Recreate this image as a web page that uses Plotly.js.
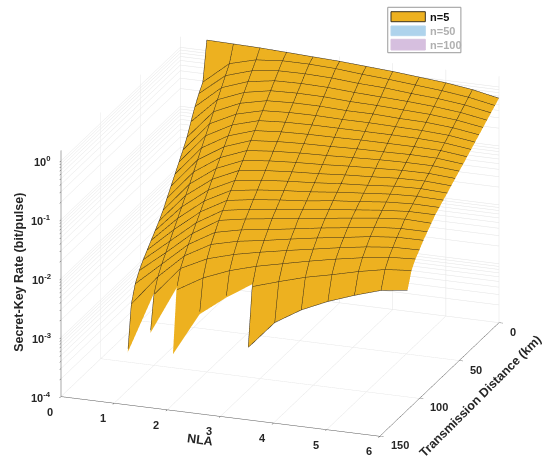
<!DOCTYPE html>
<html>
<head>
<meta charset="utf-8">
<script src="https://cdn.plot.ly/plotly-3.0.1.min.js"></script>
<style>html,body{margin:0;padding:0;background:#fff;}#plot{width:550px;height:464px;}</style>
</head>
<body>
<div id="plot"></div>
<script>
// NLA gain values (x) and transmission distances in km (y)
const nla = [0.5, 1, 1.5, 2, 2.5, 3, 3.5, 4, 4.5, 5, 5.5, 6];
const distanceKm = [0,5,10,15,20,25,30,35,40,45,50,55,60,65,70,75,80,85,90,95,100,105,110,115];

// log10 of secret-key rate (bit/pulse) along distance, one array per NLA value (n=5)
const logSKR_g0_5 = [0.18,-0.47,-0.60,-0.76,-0.95,-1.15,-1.30,-1.44,-1.58,-1.72,-1.86,-2.00,-2.12,-2.22,-2.32,-2.42,-2.52,-2.64,-2.80,-3.08,-3.95,null,null,null];
const logSKR_g1_0 = [0.17,-0.10,-0.24,-0.38,-0.52,-0.66,-0.80,-0.94,-1.08,-1.22,-1.36,-1.50,-1.63,-1.76,-1.89,-2.02,-2.15,-2.28,-2.41,-2.56,-2.80,-3.48,null,null];
const logSKR_g1_5 = [0.16,0.02,-0.10,-0.22,-0.34,-0.46,-0.58,-0.70,-0.82,-0.94,-1.06,-1.18,-1.30,-1.42,-1.54,-1.66,-1.78,-1.90,-2.02,-2.15,-2.30,-2.60,-3.78,null];
const logSKR_g2_0 = [0.14,0.06,-0.045,-0.15,-0.255,-0.36,-0.465,-0.57,-0.675,-0.78,-0.885,-0.99,-1.095,-1.20,-1.305,-1.41,-1.515,-1.62,-1.76,-1.90,-2.08,-2.34,-2.98,null];
const logSKR_g2_5 = [0.12,0.06,-0.04,-0.14,-0.24,-0.34,-0.44,-0.54,-0.64,-0.74,-0.84,-0.94,-1.04,-1.14,-1.24,-1.34,-1.44,-1.54,-1.66,-1.79,-1.95,-2.16,-2.62,null];
const logSKR_g3_0 = [0.10,0.04,-0.055,-0.15,-0.245,-0.34,-0.435,-0.53,-0.625,-0.72,-0.815,-0.91,-1.005,-1.10,-1.195,-1.29,-1.385,-1.48,-1.60,-1.72,-1.855,-2.03,-2.31,-3.28];
const logSKR_g3_5 = [0.07,0.0,-0.09,-0.18,-0.27,-0.36,-0.445,-0.53,-0.62,-0.71,-0.80,-0.89,-0.98,-1.07,-1.16,-1.25,-1.335,-1.42,-1.53,-1.64,-1.77,-1.93,-2.17,-2.80];
const logSKR_g4_0 = [0.04,-0.03,-0.11,-0.20,-0.28,-0.36,-0.445,-0.53,-0.61,-0.695,-0.78,-0.86,-0.945,-1.03,-1.11,-1.19,-1.275,-1.36,-1.46,-1.565,-1.69,-1.83,-2.04,-2.53];
const logSKR_g4_5 = [0.0,-0.07,-0.15,-0.22,-0.30,-0.38,-0.455,-0.53,-0.61,-0.69,-0.76,-0.84,-0.92,-1.00,-1.07,-1.15,-1.225,-1.30,-1.40,-1.50,-1.61,-1.74,-1.94,-2.33];
const logSKR_g5_0 = [-0.04,-0.11,-0.18,-0.25,-0.32,-0.39,-0.465,-0.535,-0.61,-0.68,-0.75,-0.82,-0.89,-0.96,-1.03,-1.10,-1.175,-1.245,-1.335,-1.43,-1.54,-1.66,-1.83,-2.17];
const logSKR_g5_5 = [-0.10,-0.165,-0.23,-0.295,-0.36,-0.425,-0.49,-0.555,-0.62,-0.685,-0.75,-0.815,-0.88,-0.945,-1.01,-1.075,-1.14,-1.205,-1.30,-1.385,-1.49,-1.595,-1.74,-2.03];
const logSKR_g6_0 = [-0.19,-0.25,-0.31,-0.37,-0.43,-0.49,-0.55,-0.61,-0.67,-0.73,-0.785,-0.845,-0.905,-0.965,-1.02,-1.08,-1.14,-1.22,-1.30,-1.38,-1.48,-1.57,-1.70,-1.97];

// axis ticks and labels
const xTicks = [0,1,2,3,4,5,6];
const yTicks = [0,50,100,150];
const zDecadeExp = [-4,-3,-2,-1,0];
const zDecadeLabels = ['10<sup>-4</sup>','10<sup>-3</sup>','10<sup>-2</sup>','10<sup>-1</sup>','10<sup>0</sup>'];
const zTickVals = [1e-4,2e-4,3e-4,4e-4,5e-4,6e-4,7e-4,8e-4,9e-4,
                   1e-3,2e-3,3e-3,4e-3,5e-3,6e-3,7e-3,8e-3,9e-3,
                   1e-2,2e-2,3e-2,4e-2,5e-2,6e-2,7e-2,8e-2,9e-2,
                   1e-1,2e-1,3e-1,4e-1,5e-1,6e-1,7e-1,8e-1,9e-1,1];
const xTitle = 'NLA', yTitle = 'Transmission Distance (km)', zTitle = 'Secret-Key Rate (bit/pulse)';
const legendNames = ['n=5','n=50','n=100'];

const columns = [logSKR_g0_5,logSKR_g1_0,logSKR_g1_5,logSKR_g2_0,logSKR_g2_5,logSKR_g3_0,
                 logSKR_g3_5,logSKR_g4_0,logSKR_g4_5,logSKR_g5_0,logSKR_g5_5,logSKR_g6_0];
const zRate = distanceKm.map((d, i) => columns.map(col => col[i] === null ? null : Math.pow(10, col[i])));

const faceColor = '#EDB120';
const edgeColor = '#33291a';
const fontFam = 'Liberation Sans, Arial, sans-serif';
const txt = '#262626';
const rowStep = distanceKm[1] - distanceKm[0];
const colStep = nla[1] - nla[0];
const eps = 1e-3;

const baseSurf = {
  type: 'surface',
  x: nla, y: distanceKm, z: zRate,
  colorscale: [[0, faceColor],[1, faceColor]],
  showscale: false,
  lighting: {ambient: 1, diffuse: 0, specular: 0, roughness: 1, fresnel: 0},
  hoverinfo: 'skip'
};
// mesh lines: grid columns (constant NLA) and grid rows (constant distance)
const surf = Object.assign({}, baseSurf, {
  contours: {
    x: {show: true, start: nla[0], end: nla[nla.length-1], size: colStep, color: edgeColor, width: 1, highlight: false},
    y: {show: true, start: -eps, end: distanceKm[distanceKm.length-1], size: rowStep, color: edgeColor, width: 1, highlight: false},
    z: {highlight: false}
  }
});
// outline of the d = 0 edge
const surfEdge = Object.assign({}, baseSurf, {
  contours: {
    x: {show: false, highlight: false},
    y: {show: true, start: distanceKm[0] + eps, end: distanceKm[0] + 2 * eps, size: rowStep, color: edgeColor, width: 1, highlight: false},
    z: {highlight: false}
  }
});

const axisCommon = {
  showgrid: true, gridcolor: '#e3e3e3', gridwidth: 1,
  showline: true, linecolor: '#555', linewidth: 1,
  ticks: 'outside', ticklen: 4, tickcolor: '#555',
  showticklabels: false,
  zeroline: false, showbackground: false, showspikes: false,
  title: {text: ''}
};

const tickFont = {family: fontFam, size: 11, color: txt};
const titleFont = {family: fontFam, size: 12.5, color: txt};
const zBottom = zDecadeExp[0];
const sceneAnn = [];
xTicks.forEach(v => sceneAnn.push({x: v, y: 150, z: zBottom, text: '<b>' + v + '</b>', showarrow: false, xanchor: 'center', yanchor: 'middle', xshift: -11, yshift: -15, font: tickFont}));
yTicks.forEach(v => sceneAnn.push({x: 6, y: v, z: zBottom, text: '<b>' + v + '</b>', showarrow: false, xanchor: 'left', yanchor: 'middle', xshift: 9, yshift: -9, font: tickFont}));
zDecadeExp.forEach((v, i) => sceneAnn.push({x: 0, y: 150, z: v, text: '<b>' + zDecadeLabels[i] + '</b>', showarrow: false, xanchor: 'right', yanchor: 'middle', xshift: -8, yshift: 0, font: tickFont}));
sceneAnn.push({x: 3, y: 150, z: zBottom, text: '<b>' + xTitle + '</b>', showarrow: false, xanchor: 'center', yanchor: 'middle', xshift: -20, yshift: -24, textangle: 7, font: titleFont});
sceneAnn.push({x: 6, y: 75, z: zBottom, text: '<b>' + yTitle + '</b>', showarrow: false, xanchor: 'center', yanchor: 'middle', xshift: 41, yshift: -16, textangle: -45, font: titleFont});
sceneAnn.push({x: 0, y: 150, z: -2, text: '<b>' + zTitle + '</b>', showarrow: false, xanchor: 'center', yanchor: 'middle', xshift: -42, yshift: 7, textangle: -90, font: titleFont});

const layout = {
  width: 550, height: 464,
  margin: {l: 0, r: 0, t: 0, b: 0},
  paper_bgcolor: '#fff',
  showlegend: false,
  scene: {
    domain: {x: [0.018, 1], y: [0, 0.98]},
    aspectmode: 'manual',
    aspectratio: {x: 1.49, y: 1.542, z: 1.153},
    camera: {
      eye: {x: 0.431, y: -1.192, z: 0.465},
      up: {x: 0, y: 0, z: 1},
      center: {x: 0, y: 0, z: 0},
      projection: {type: 'orthographic'}
    },
    xaxis: Object.assign({}, axisCommon, {range: [0, 6], tickvals: xTicks}),
    yaxis: Object.assign({}, axisCommon, {range: [150, 0], tickvals: yTicks}),
    zaxis: Object.assign({}, axisCommon, {type: 'log', range: [-4, 0.18], tickvals: zTickVals}),
    annotations: sceneAnn
  },
  shapes: [
    {type: 'rect', xref: 'paper', yref: 'paper', x0: 0.705, x1: 0.838, y0: 0.8864, y1: 0.9843, line: {color: '#9a9a9a', width: 1}, fillcolor: '#fff'},
    {type: 'rect', xref: 'paper', yref: 'paper', x0: 0.7109, x1: 0.7733, y0: 0.9532, y1: 0.9748, line: {color: '#3b3320', width: 1}, fillcolor: faceColor},
    {type: 'rect', xref: 'paper', yref: 'paper', x0: 0.7109, x1: 0.7733, y0: 0.9231, y1: 0.944, line: {color: '#b5d6ec', width: 1}, fillcolor: '#aed3ec'},
    {type: 'rect', xref: 'paper', yref: 'paper', x0: 0.7109, x1: 0.7733, y0: 0.8922, y1: 0.9153, line: {color: '#d8c2df', width: 1}, fillcolor: '#d6bfdf'}
  ],
  annotations: [
    {xref: 'paper', yref: 'paper', x: 0.778, y: 0.964, xanchor: 'left', yanchor: 'middle', showarrow: false, text: '<b>' + legendNames[0] + '</b>', font: {family: fontFam, size: 11, color: '#111'}},
    {xref: 'paper', yref: 'paper', x: 0.778, y: 0.933, xanchor: 'left', yanchor: 'middle', showarrow: false, text: '<b>' + legendNames[1] + '</b>', font: {family: fontFam, size: 11, color: '#b0b0b0'}},
    {xref: 'paper', yref: 'paper', x: 0.778, y: 0.903, xanchor: 'left', yanchor: 'middle', showarrow: false, text: '<b>' + legendNames[2] + '</b>', font: {family: fontFam, size: 11, color: '#b0b0b0'}}
  ]
};

Plotly.newPlot('plot', [surf, surfEdge], layout, {displayModeBar: false});
</script>
</body>
</html>
